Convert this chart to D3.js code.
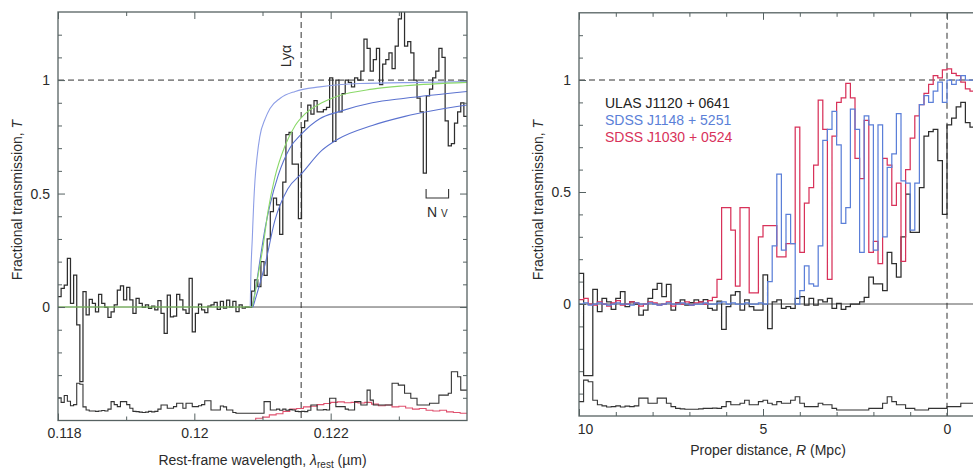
<!DOCTYPE html>
<html>
<head>
<meta charset="utf-8">
<script src="https://cdn.jsdelivr.net/npm/d3@7"></script>
<style>
body { margin: 0; background: #fff; }
svg text { font-family: "Liberation Sans", Arial, sans-serif; fill: #2b2b2b; font-size: 14px; }
</style>
</head>
<body>
<div class="chart"></div>
<script>
// Damping wing figure, two panels

// DATA--------------------------------

// left panel: binned transmission of ULAS J1120+0641 against rest wavelength (um)
const lamStart = 0.118;
const lamStep = 0.0000458;
const ulasT = [0.046, 0.082, 0.097, 0.214, 0.016, 0.141, -0.079, -0.329, 0.068, -0.035,
  0.034, 0.016, -0.021, 0.056, 0.016, -0.001, -0.046, -0.021, 0.009, 0.075,
  0.093, 0.031, 0.087, 0.031, -0.028, 0.038, 0.016, -0.001, 0.009, -0.006,
  0.004, -0.013, 0.028, -0.028, -0.116, 0.053, -0.043, -0.040, 0.056, 0.031,
  -0.013, -0.028, 0.126, -0.109, -0.028, 0.013, -0.013, -0.025, 0.004, 0.009,
  0.02, -0.01, 0.025, -0.005, 0.03, 0.0, 0.025, -0.02, 0.01, -0.005,
  0.0, 0.0, 0.07, 0.12, 0.09, 0.2, 0.14, 0.3, 0.42, 0.48,
  0.45, 0.32, 0.55, 0.76, 0.77, 0.63, 0.63, 0.39, 0.79, 0.82,
  0.89, 0.85, 0.91, 0.86, 0.86, 0.87, 0.88, 1.01, 0.73, 1.0,
  0.86, 0.94, 1.0, 0.99, 0.97, 1.01, 1.0, 1.04, 1.18, 1.14,
  1.04, 1.09, 1.14, 0.98, 1.07, 1.09, 1.12, 1.05, 1.15, 1.27,
  1.35, 1.15, 1.17, 1.12, 1.0, 0.92, 0.86, 0.59, 0.93, 0.96,
  1.01, 1.04, 1.14, 1.1, 0.82, 0.71, 0.72, 0.81, 0.86, 0.9, 0.84];
// noise spectrum, drawn offset by -0.5
const ulasNoise = [-0.40, -0.42, -0.39, -0.415, -0.435, -0.43, -0.336, -0.34, -0.44, -0.454,
  -0.458, -0.458, -0.46, -0.458, -0.456, -0.458, -0.45, -0.417, -0.43, -0.439,
  -0.417, -0.417, -0.43, -0.446, -0.46, -0.461, -0.463, -0.465, -0.463, -0.46,
  -0.462, -0.46, -0.45, -0.432, -0.432, -0.446, -0.446, -0.439, -0.424, -0.424,
  -0.446, -0.424, -0.424, -0.439, -0.439, -0.435, -0.43, -0.413, -0.413, -0.454,
  -0.454, -0.454, -0.436, -0.44, -0.454, -0.454, -0.465, -0.468, -0.468, -0.468,
  -0.468, -0.468, -0.468, -0.468, -0.468, -0.468, -0.417, -0.417, -0.454, -0.454,
  -0.45, -0.455, -0.45, -0.455, -0.452, -0.454, -0.46, -0.461, -0.46, -0.461,
  -0.455, -0.432, -0.432, -0.454, -0.454, -0.452, -0.454, -0.402, -0.402, -0.439,
  -0.439, -0.439, -0.45, -0.454, -0.454, -0.417, -0.417, -0.432, -0.432, -0.366,
  -0.41, -0.432, -0.432, -0.432, -0.432, -0.432, -0.432, -0.336, -0.336, -0.344,
  -0.344, -0.38, -0.38, -0.402, -0.402, -0.432, -0.432, -0.432, -0.432, -0.424,
  -0.424, -0.424, -0.388, -0.388, -0.388, -0.38, -0.285, -0.285, -0.307, -0.366, -0.366];
// red noise trace
const redLam = [0.1208, 0.1209, 0.121, 0.1211, 0.1212, 0.1213, 0.1214, 0.1215, 0.1216, 0.1217,
  0.1218, 0.1219, 0.122, 0.1221, 0.1222, 0.1223, 0.1224, 0.1225, 0.1226, 0.1227,
  0.1228, 0.1229, 0.123, 0.1231, 0.1232, 0.1233, 0.1234, 0.1235, 0.1236, 0.1237,
  0.1238, 0.1239, 0.124];
const redNoise = [-0.5, -0.49, -0.485, -0.475, -0.47, -0.46, -0.45, -0.447, -0.44, -0.437,
  -0.43, -0.425, -0.42, -0.418, -0.422, -0.42, -0.423, -0.42, -0.428, -0.435,
  -0.432, -0.44, -0.437, -0.445, -0.45, -0.447, -0.455, -0.458, -0.455, -0.462,
  -0.465, -0.468, -0.468];
// model curves [lambda, T]
const modelGreen = [[0.118, 0], [0.12084, 0], [0.12089, 0.06], [0.12093, 0.13], [0.12101, 0.27],
  [0.12108, 0.42], [0.12118, 0.57], [0.12133, 0.71], [0.12148, 0.8], [0.12162, 0.85],
  [0.12187, 0.9], [0.12211, 0.93], [0.12261, 0.96], [0.12309, 0.975], [0.124, 0.99]];
const modelSteep = [[0.12082, 0], [0.12083, 0.15], [0.12085, 0.3], [0.12087, 0.45], [0.12089, 0.56],
  [0.12092, 0.66], [0.12096, 0.75], [0.12104, 0.83], [0.12111, 0.875], [0.12126, 0.92],
  [0.12148, 0.95], [0.12184, 0.97], [0.12243, 0.985], [0.12331, 0.99], [0.124, 0.993]];
const modelMid = [[0.12085, 0], [0.12091, 0.1], [0.12096, 0.2], [0.12104, 0.35], [0.12111, 0.45],
  [0.12123, 0.58], [0.1214, 0.7], [0.12158, 0.765], [0.12184, 0.83], [0.12211, 0.86],
  [0.12261, 0.9], [0.12309, 0.92], [0.124, 0.95]];
const modelLow = [[0.12086, 0], [0.12093, 0.07], [0.12104, 0.19], [0.12118, 0.38], [0.12137, 0.52],
  [0.12158, 0.59], [0.12187, 0.69], [0.12211, 0.74], [0.12261, 0.8], [0.12309, 0.84], [0.124, 0.89]];
const lyaLam = 0.121567;
const nvLam = [0.1234, 0.12373];

// right panel: transmission against proper distance (Mpc)
const rStart = 10;
const rStep = -0.125;
const ulasR = [0.137, -0.32, -0.32, 0.065, -0.034, 0.025, 0.01, -0.024, 0.025, 0.055,
  -0.012, 0.01, 0.0, -0.05, -0.027, 0.025, 0.065, 0.092, 0.033, 0.088,
  -0.027, 0.006, 0.018, -0.005, 0.006, 0.018, 0.01, 0.02, -0.02, -0.027,
  0.013, -0.113, -0.012, 0.04, 0.055, -0.027, 0.018, -0.012, -0.027, -0.027,
  0.13, -0.11, 0.01, 0.018, -0.02, -0.012, -0.02, 0.025, 0.033, -0.005,
  0.025, -0.005, 0.018, 0.01, 0.025, -0.02, 0.003, -0.024, -0.012, 0.0,
  0.0, 0.01, 0.03, 0.12, 0.09, 0.09, 0.06, 0.23, 0.18, 0.12,
  0.3, 0.49, 0.32, 0.32, 0.52, 0.75, 0.77, 0.78, 0.64, 0.4,
  0.8, 0.83, 0.88, 0.9, 0.81, 0.79];
const j1148R = [0, 0.005, -0.005, 0, 0.005, 0, -0.005, 0, 0.005, 0,
  0, -0.005, 0.005, 0, 0, 0.005, 0, -0.005, 0, 0.005,
  0, 0, 0.005, 0, -0.005, 0, 0, 0.005, 0, 0,
  0.005, 0.01, 0, 0.005, 0, 0, 0.005, 0, 0, 0.005,
  0, 0.1, 0.26, 0.58, 0.24, 0.4, 0.27, 0.0, 0.06, 0.17,
  0.09, 0.08, 0.26, 0.73, 0.78, 0.86, 0.71, 0.36, 0.43, 0.87,
  0.78, 0.23, 0.84, 0.8, 0.24, 0.8, 0.3, 0.61, 0.67, 0.85,
  0.55, 0.54, 0.33, 0.54, 0.89, 0.93, 0.9, 0.95, 0.99, 0.9,
  1.0, 0.98, 1.0, 1.02, 1.0, 1.0];
const j1030R = [0.02, 0.025, 0.0, -0.005, 0.01, 0.0, -0.01, 0.005, 0.015, -0.005,
  0.0, 0.01, 0.005, -0.01, 0.0, 0.01, 0.005, -0.005, 0.0, 0.01,
  -0.01, 0.005, 0.0, 0.01, -0.005, 0.005, 0.01, 0.0, 0.015, 0.03,
  0.11, 0.43, 0.43, 0.33, 0.08, 0.43, 0.43, 0.05, 0.05, 0.3,
  0.35, 0.35, 0.35, 0.21, 0.21, 0.27, 0.27, 0.79, 0.23, 0.45,
  0.52, 0.62, 0.91, 0.78, 0.11, 0.75, 0.9, 0.92, 0.985, 0.92,
  0.65, 0.56, 0.82, 0.23, 0.28, 0.18, 0.65, 0.62, 0.44, 0.54,
  0.19, 0.6, 0.74, 0.84, 0.89, 0.94, 0.98, 1.02, 1.01, 1.045,
  1.05, 1.03, 1.02, 0.99, 0.96, 0.95];
const noiseR = [-0.436, -0.34, -0.347, -0.43, -0.45, -0.455, -0.46, -0.458, -0.455, -0.46,
  -0.456, -0.458, -0.455, -0.42, -0.42, -0.443, -0.443, -0.42, -0.42, -0.443,
  -0.458, -0.466, -0.468, -0.47, -0.47, -0.47, -0.468, -0.466, -0.466, -0.465,
  -0.466, -0.458, -0.436, -0.45, -0.45, -0.443, -0.43, -0.45, -0.45, -0.436,
  -0.43, -0.443, -0.45, -0.436, -0.443, -0.443, -0.43, -0.414, -0.443, -0.458,
  -0.458, -0.458, -0.443, -0.45, -0.45, -0.466, -0.473, -0.473, -0.473, -0.473,
  -0.473, -0.473, -0.473, -0.466, -0.466, -0.466, -0.443, -0.414, -0.436, -0.45,
  -0.45, -0.466, -0.466, -0.473, -0.473, -0.473, -0.466, -0.466, -0.466, -0.466,
  -0.458, -0.458, -0.458, -0.443, -0.443, -0.443];
const legendNames = ['ULAS J1120 + 0641', 'SDSS J1148 + 5251', 'SDSS J1030 + 0524'];
const legendColors = ['#222222', '#5b7fd8', '#d8325a'];

// CHART INIT-------------------------

const width = 973, height = 469;
const frameColor = '#566262';

const svg = d3.select('.chart')
    .append('svg')
    .attr('width', width)
    .attr('height', height);

const defs = svg.append('defs');

const xL = d3.scaleLinear().domain([0.118, 0.124]).range([58, 467]);
const yL = d3.scaleLinear().domain([-0.5, 1.3]).range([420.5, 12]);
const xR = d3.scaleLinear().domain([10, -1]).range([579, 579 + 11 * 36.8]);
const yR = d3.scaleLinear().domain([-0.5, 1.3]).range([416, 12.8]);

// step histogram path from binned values
function stepPath(vals, start, step, x, y) {
    const pts = vals.map((v, i) => [start + i * step, v]);
    pts.push([start + vals.length * step, vals[vals.length - 1]]);
    return d3.line()
        .x(d => x(d[0]))
        .y(d => y(d[1]))
        .curve(d3.curveStepAfter)(pts);
}

// box, inward ticks on every side
function frame(g, x, y, xMajor, xMinor, yMajor, yMinor) {
    const [x0, x1] = x.range();
    const [y0, y1] = y.range();
    const fmt = d3.format('');

    const axes = [
        {ax: d3.axisBottom(x), t: `translate(0,${y0})`, major: xMajor, minor: xMinor, lab: true},
        {ax: d3.axisTop(x), t: `translate(0,${y1})`, major: xMajor, minor: xMinor, lab: false},
        {ax: d3.axisLeft(y), t: `translate(${x0},0)`, major: yMajor, minor: yMinor, lab: true},
        {ax: d3.axisRight(y), t: `translate(${x1},0)`, major: yMajor, minor: yMinor, lab: false}
    ];
    axes.forEach(a => {
        const major = g.append('g').attr('transform', a.t)
            .call(a.ax.tickValues(a.major).tickSize(-7).tickSizeOuter(0).tickPadding(a.lab ? 8 : 0)
                .tickFormat(a.lab ? fmt : ''));
        major.select('.domain').remove();
        major.selectAll('line').attr('stroke', frameColor).attr('stroke-width', 1);
        major.selectAll('text').attr('fill', '#2b2b2b').style('font-size', '14px')
            .style('font-family', '"Liberation Sans", Arial, sans-serif');
        major.attr('font-size', null).attr('font-family', null);
        const minor = g.append('g').attr('transform', a.t)
            .call(a.ax.tickValues(a.minor).tickSize(-4).tickSizeOuter(0).tickFormat(''));
        minor.select('.domain').remove();
        minor.selectAll('line').attr('stroke', frameColor).attr('stroke-width', 1);
        // first x label sits just inside the frame
        if (a.lab && a.major === xMajor) {
            major.selectAll('text').filter((d, i) => i === 0).attr('dx', 6);
        }
    });

    g.append('rect')
        .attr('x', x0).attr('y', y1)
        .attr('width', x1 - x0).attr('height', y0 - y1)
        .attr('fill', 'none')
        .attr('stroke', frameColor)
        .attr('stroke-width', 1.3);
}

// LEFT PANEL-------------------------

defs.append('clipPath').attr('id', 'clipL')
    .append('rect').attr('x', 58).attr('y', 12).attr('width', 409).attr('height', 408.5);

const gL = svg.append('g');
const plotL = gL.append('g').attr('clip-path', 'url(#clipL)');

plotL.append('line')
    .attr('x1', xL(0.118)).attr('x2', xL(0.124))
    .attr('y1', yL(0)).attr('y2', yL(0))
    .attr('stroke', '#555').attr('stroke-width', 1);

plotL.append('line')
    .attr('x1', xL(0.118)).attr('x2', xL(0.124))
    .attr('y1', yL(1)).attr('y2', yL(1))
    .attr('stroke', '#333').attr('stroke-width', 1).attr('stroke-dasharray', '6,4');

plotL.append('line')
    .attr('x1', xL(lyaLam)).attr('x2', xL(lyaLam))
    .attr('y1', yL(1.3)).attr('y2', yL(-0.5))
    .attr('stroke', '#333').attr('stroke-width', 1).attr('stroke-dasharray', '6,4');

plotL.append('path')
    .attr('d', d3.line().x((d, i) => xL(redLam[i])).y(d => yL(d)).curve(d3.curveStepAfter)(redNoise))
    .attr('fill', 'none').attr('stroke', '#e0506e').attr('stroke-width', 1.1);

plotL.append('path')
    .attr('d', stepPath(ulasNoise, lamStart, lamStep, xL, yL))
    .attr('fill', 'none').attr('stroke', '#333').attr('stroke-width', 1.1);

plotL.append('path')
    .attr('d', stepPath(ulasT, lamStart, lamStep, xL, yL))
    .attr('fill', 'none').attr('stroke', '#2e2e2e').attr('stroke-width', 1.25);

const modelLine = d3.line().x(d => xL(d[0])).y(d => yL(d[1])).curve(d3.curveMonotoneX);
[[modelSteep, '#8d9ee6'], [modelMid, '#5b72cf'], [modelLow, '#5b72cf'], [modelGreen, '#8bd96a']]
    .forEach(m => {
        plotL.append('path')
            .attr('d', modelLine(m[0]))
            .attr('fill', 'none').attr('stroke', m[1]).attr('stroke-width', 1.1);
    });

frame(gL, xL, yL,
    [0.118, 0.12, 0.122], [0.119, 0.121, 0.123],
    [0, 0.5, 1], [-0.4, -0.3, -0.2, -0.1, 0.1, 0.2, 0.3, 0.4, 0.6, 0.7, 0.8, 0.9, 1.1, 1.2]);

// Ly alpha label
gL.append('text')
    .attr('transform', `translate(${xL(lyaLam) - 10},56) rotate(-90)`)
    .attr('text-anchor', 'middle')
    .text('Ly\u03b1');

// N V marker
const nvY = 198;
gL.append('path')
    .attr('d', `M${xL(nvLam[0])},${nvY - 9}V${nvY}H${xL(nvLam[1])}V${nvY - 9}`)
    .attr('fill', 'none').attr('stroke', '#333').attr('stroke-width', 1.1);
const nvText = gL.append('text')
    .attr('x', (xL(nvLam[0]) + xL(nvLam[1])) / 2)
    .attr('y', 217)
    .attr('text-anchor', 'middle');
nvText.append('tspan').text('N ');
nvText.append('tspan').style('font-size', '10px').text('V');

// axis titles
const xTitleL = gL.append('text')
    .attr('x', (xL.range()[0] + xL.range()[1]) / 2)
    .attr('y', 465)
    .attr('text-anchor', 'middle');
xTitleL.append('tspan').text('Rest-frame wavelength, ');
xTitleL.append('tspan').style('font-style', 'italic').text('\u03bb');
xTitleL.append('tspan').attr('dy', 3).style('font-size', '10px').text('rest');
xTitleL.append('tspan').attr('dy', -3).text(' (\u00b5m)');

const yTitleL = gL.append('text')
    .attr('transform', 'translate(22,200) rotate(-90)')
    .attr('text-anchor', 'middle');
yTitleL.append('tspan').text('Fractional transmission, ');
yTitleL.append('tspan').style('font-style', 'italic').text('T');

// RIGHT PANEL------------------------

defs.append('clipPath').attr('id', 'clipR')
    .append('rect').attr('x', 579).attr('y', 12.8).attr('width', 400).attr('height', 403.2);

const gR = svg.append('g');
const plotR = gR.append('g').attr('clip-path', 'url(#clipR)');

plotR.append('line')
    .attr('x1', xR(10)).attr('x2', xR(-1))
    .attr('y1', yR(0)).attr('y2', yR(0))
    .attr('stroke', '#555').attr('stroke-width', 1);

plotR.append('line')
    .attr('x1', xR(10)).attr('x2', xR(-1))
    .attr('y1', yR(1)).attr('y2', yR(1))
    .attr('stroke', '#333').attr('stroke-width', 1).attr('stroke-dasharray', '6,4');

plotR.append('line')
    .attr('x1', xR(0)).attr('x2', xR(0))
    .attr('y1', yR(1.3)).attr('y2', yR(-0.5))
    .attr('stroke', '#333').attr('stroke-width', 1).attr('stroke-dasharray', '6,4');

plotR.append('path')
    .attr('d', stepPath(noiseR, rStart, rStep, xR, yR))
    .attr('fill', 'none').attr('stroke', '#333').attr('stroke-width', 1.1);

[[ulasR, '#2e2e2e'], [j1030R, legendColors[2]], [j1148R, legendColors[1]]].forEach(s => {
    plotR.append('path')
        .attr('d', stepPath(s[0], rStart, rStep, xR, yR))
        .attr('fill', 'none').attr('stroke', s[1]).attr('stroke-width', 1.25);
});

frame(gR, xR, yR,
    [10, 5, 0], [9, 8, 7, 6, 4, 3, 2, 1, -1],
    [0, 0.5, 1], [-0.4, -0.3, -0.2, -0.1, 0.1, 0.2, 0.3, 0.4, 0.6, 0.7, 0.8, 0.9, 1.1, 1.2]);

// legend
gR.selectAll('.legend')
    .data(legendNames)
    .enter()
    .append('text')
    .attr('class', 'legend')
    .attr('x', 605)
    .attr('y', (d, i) => 108 + i * 17)
    .style('fill', (d, i) => legendColors[i])
    .text(d => d);

const xTitleR = gR.append('text')
    .attr('x', 768)
    .attr('y', 455)
    .attr('text-anchor', 'middle');
xTitleR.append('tspan').text('Proper distance, ');
xTitleR.append('tspan').style('font-style', 'italic').text('R');
xTitleR.append('tspan').text(' (Mpc)');

const yTitleR = gR.append('text')
    .attr('transform', 'translate(543,200) rotate(-90)')
    .attr('text-anchor', 'middle');
yTitleR.append('tspan').text('Fractional transmission, ');
yTitleR.append('tspan').style('font-style', 'italic').text('T');
</script>
</body>
</html>
